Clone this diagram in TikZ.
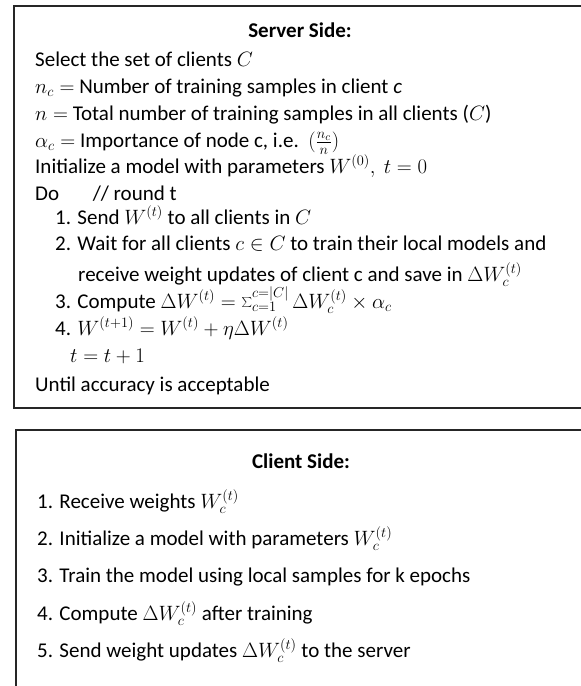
\documentclass[tikz,border=0pt]{standalone}
\usepackage{fontspec}
\setmainfont{Carlito}
\begin{document}
\begin{tikzpicture}[x=1pt,y=-1pt,
  txt/.style={anchor=base west,inner sep=0pt,font=\fontsize{21}{25}\selectfont},
  head/.style={anchor=base,inner sep=0pt,font=\fontsize{21}{25}\selectfont\bfseries},
  panel/.style={draw=black!85,line width=1.2pt}]
\useasboundingbox (0,0) rectangle (581,686);
\draw[panel] (14,6) rectangle (600,408);
\draw[panel] (16,430) rectangle (600,720);
\node[head] (sh) at (300,37) {Server Side:};
\node[txt] (s1) at (35,66) {Select the set of clients $C$};
\node[txt] (s2) at (35,93) {$n_c =$ Number of training samples in client \textit{c}};
\node[txt] (s3) at (35,120) {$n =$ Total number of training samples in all clients ($C$)};
\node[txt] (s4) at (35,147) {$\alpha_c =$ Importance of node c, i.e.\ \ $(\frac{n_c}{n})$};
\node[txt] (s5) at (35,173) {Initialize a model with parameters $W^{(0)},\ t = 0$};
\node[txt] (s6) at (35,200) {Do\hspace{1.6em}// round t};
\node[txt] (s7) at (55,224) {1. Send $W^{(t)}$ to all clients in $C$};
\node[txt] (s8) at (55,250) {2. Wait for all clients $c \in C$ to train their local models and};
\node[txt] (s9) at (78,281) {receive weight updates of client c and save in $\Delta W_c^{(t)}$};
\node[txt] (s10) at (55,308) {3. Compute $\Delta W^{(t)} = \sum_{c=1}^{c=|C|} \Delta W_c^{(t)} \times \alpha_c$};
\node[txt] (s11) at (55,335) {4. $W^{(t+1)} = W^{(t)} + \eta \Delta W^{(t)}$};
\node[txt] (s12) at (70,362) {$t = t + 1$};
\node[txt] (s13) at (35,391) {Until accuracy is acceptable};
\node[head] (ch) at (301,468) {Client Side:};
\node[txt] (c1) at (37,508) {1. Receive weights $W_c^{(t)}$};
\node[txt] (c2) at (37,545) {2. Initialize a model with parameters $W_c^{(t)}$};
\node[txt] (c3) at (37,582) {3. Train the model using local samples for k epochs};
\node[txt] (c4) at (37,620) {4. Compute $\Delta W_c^{(t)}$ after training};
\node[txt] (c5) at (37,657) {5. Send weight updates $\Delta W_c^{(t)}$ to the server};
\end{tikzpicture}
\end{document}
